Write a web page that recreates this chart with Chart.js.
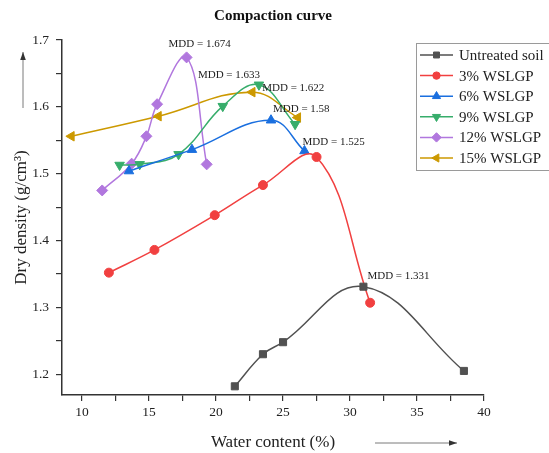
<!DOCTYPE html>
<html>
<head>
<meta charset="utf-8">
<script src="https://cdn.jsdelivr.net/npm/chart.js@4"></script>
<style>
  html, body { margin: 0; padding: 0; background: #fff; }
  canvas { display: block; }
</style>
</head>
<body>
<canvas id="c" width="549" height="453"></canvas>
<script>
// ---------------- data ----------------
const seriesNames = ['Untreated soil', '3% WSLGP', '6% WSLGP', '9% WSLGP', '12% WSLGP', '15% WSLGP'];

const untreatedX = [21.4, 23.5, 25.0, 31.0, 38.5];
const untreatedY = [1.182, 1.230, 1.248, 1.331, 1.205];

const wslgp3X = [12.0, 15.4, 19.9, 23.5, 27.5, 31.5];
const wslgp3Y = [1.352, 1.386, 1.438, 1.483, 1.525, 1.307];

const wslgp6X = [13.5, 18.2, 24.1, 26.6];
const wslgp6Y = [1.504, 1.536, 1.580, 1.534];

const wslgp9X = [12.8, 14.3, 17.2, 20.5, 23.2, 25.9];
const wslgp9Y = [1.513, 1.514, 1.529, 1.601, 1.633, 1.574];

const wslgp12X = [11.5, 13.7, 14.8, 15.6, 17.8, 19.3];
const wslgp12Y = [1.475, 1.515, 1.556, 1.604, 1.674, 1.514];

const wslgp15X = [9.2, 15.7, 22.7, 26.1];
const wslgp15Y = [1.556, 1.586, 1.622, 1.584];

const xTickLabels = [10, 15, 20, 25, 30, 35, 40];
const yTickLabels = [1.2, 1.3, 1.4, 1.5, 1.6, 1.7];

const titleText = 'Compaction curve';
const xTitle = 'Water content (%)';
const yTitle = 'Dry density (g/cm\u00B3)';

// ---------------- styles ----------------
const colors = ['#515151', '#F14040', '#1A6FDF', '#37AD6B', '#B177DE', '#CC9900'];
const styles = [
  { pointStyle: 'rect', rotation: 0, radius: 5 },
  { pointStyle: 'circle', rotation: 0, radius: 4.5 },
  { pointStyle: 'triangle', rotation: 0, radius: 5.5 },
  { pointStyle: 'triangle', rotation: 180, radius: 5.5 },
  { pointStyle: 'rectRot', rotation: 0, radius: 5.5 },
  { pointStyle: 'triangle', rotation: -90, radius: 5.5 }
];
const SERIF = '"Liberation Serif", "Times New Roman", serif';

const xs = [untreatedX, wslgp3X, wslgp6X, wslgp9X, wslgp12X, wslgp15X];
const ys = [untreatedY, wslgp3Y, wslgp6Y, wslgp9Y, wslgp12Y, wslgp15Y];

const datasets = seriesNames.map((name, i) => ({
  label: name,
  data: xs[i].map((x, k) => ({ x: x, y: ys[i][k] })),
  borderColor: colors[i],
  backgroundColor: colors[i],
  pointBackgroundColor: colors[i],
  pointBorderColor: colors[i],
  pointBorderWidth: 1,
  pointStyle: styles[i].pointStyle,
  pointRotation: styles[i].rotation,
  pointRadius: styles[i].radius,
  borderWidth: 1.5,
  tension: 0.4,
  fill: false,
  clip: false
}));

// MDD annotations: series index, point index, label offsets (px)
const mddNotes = [
  { s: 4, k: 4, dx: -18, dy: -13 },
  { s: 3, k: 4, dx: -61, dy: -10 },
  { s: 5, k: 2, dx: 10, dy: -4 },
  { s: 2, k: 2, dx: 2, dy: -11 },
  { s: 1, k: 4, dx: -14, dy: -15 },
  { s: 0, k: 3, dx: 4, dy: -11 }
];

function drawMarker(ctx, style, color, x, y) {
  const r = style.radius;
  ctx.save();
  ctx.fillStyle = color;
  ctx.strokeStyle = color;
  ctx.lineWidth = 1;
  ctx.beginPath();
  if (style.pointStyle === 'rect') {
    const s = r * Math.SQRT1_2;
    ctx.rect(x - s, y - s, 2 * s, 2 * s);
  } else if (style.pointStyle === 'circle') {
    ctx.arc(x, y, r, 0, Math.PI * 2);
  } else if (style.pointStyle === 'rectRot') {
    const s = r * Math.SQRT1_2 * 1.0;
    ctx.moveTo(x, y - r); ctx.lineTo(x + r, y); ctx.lineTo(x, y + r); ctx.lineTo(x - r, y);
    ctx.closePath();
  } else {
    let rad = style.rotation * Math.PI / 180;
    ctx.moveTo(x + Math.sin(rad) * r, y - Math.cos(rad) * r);
    rad += 2 * Math.PI / 3;
    ctx.lineTo(x + Math.sin(rad) * r, y - Math.cos(rad) * r);
    rad += 2 * Math.PI / 3;
    ctx.lineTo(x + Math.sin(rad) * r, y - Math.cos(rad) * r);
    ctx.closePath();
  }
  ctx.fill();
  ctx.stroke();
  ctx.restore();
}

function arrow(ctx, x1, y1, x2, y2) {
  ctx.save();
  ctx.strokeStyle = '#7a7a7a';
  ctx.fillStyle = '#333';
  ctx.lineWidth = 1;
  ctx.beginPath();
  ctx.moveTo(x1, y1);
  ctx.lineTo(x2, y2);
  ctx.stroke();
  const a = Math.atan2(y2 - y1, x2 - x1);
  const L = 8, W = 2.8;
  ctx.beginPath();
  ctx.moveTo(x2, y2);
  ctx.lineTo(x2 - L * Math.cos(a) + W * Math.sin(a), y2 - L * Math.sin(a) - W * Math.cos(a));
  ctx.lineTo(x2 - L * Math.cos(a) - W * Math.sin(a), y2 - L * Math.sin(a) + W * Math.cos(a));
  ctx.closePath();
  ctx.fill();
  ctx.restore();
}

const decor = {
  id: 'decor',
  afterDraw(chart) {
    const ctx = chart.ctx;
    const area = chart.chartArea;
    const sx = chart.scales.x, sy = chart.scales.y;
    ctx.save();
    // title
    ctx.fillStyle = '#111';
    ctx.font = 'bold 15px ' + SERIF;
    ctx.textAlign = 'center';
    ctx.textBaseline = 'middle';
    ctx.fillText(titleText, (area.left + area.right) / 2, 16);

    // x title + arrow
    ctx.font = '17px ' + SERIF;
    ctx.fillStyle = '#222';
    ctx.fillText(xTitle, (area.left + area.right) / 2, area.bottom + 48);
    arrow(ctx, area.left + 313, area.bottom + 48, area.left + 395, area.bottom + 48);

    // y title + arrow
    ctx.save();
    ctx.translate(22, (area.top + area.bottom) / 2);
    ctx.rotate(-Math.PI / 2);
    ctx.fillText(yTitle, 0, 0);
    ctx.restore();
    arrow(ctx, 23, area.top + 68, 23, area.top + 12);

    // MDD labels
    ctx.font = '11px ' + SERIF;
    ctx.fillStyle = '#222';
    ctx.textAlign = 'left';
    ctx.textBaseline = 'middle';
    mddNotes.forEach(n => {
      const px = sx.getPixelForValue(xs[n.s][n.k]);
      const py = sy.getPixelForValue(ys[n.s][n.k]);
      ctx.fillText('MDD = ' + ys[n.s][n.k], px + n.dx, py + n.dy);
    });

    // legend
    const bx = 416.5, by = 43.5, bw = 150, bh = 127;
    ctx.fillStyle = '#fff';
    ctx.fillRect(bx, by, bw, bh);
    ctx.strokeStyle = '#9a9a9a';
    ctx.lineWidth = 1;
    ctx.strokeRect(bx, by, bw, bh);
    ctx.font = '15px ' + SERIF;
    ctx.textAlign = 'left';
    ctx.textBaseline = 'middle';
    seriesNames.forEach((name, i) => {
      const yy = 55 + i * 20.6;
      ctx.strokeStyle = colors[i];
      ctx.lineWidth = 1.5;
      ctx.beginPath();
      ctx.moveTo(420, yy);
      ctx.lineTo(453, yy);
      ctx.stroke();
      drawMarker(ctx, { pointStyle: styles[i].pointStyle, rotation: styles[i].rotation, radius: styles[i].radius - 0.8 }, colors[i], 436.5, yy);
      ctx.fillStyle = '#222';
      ctx.fillText(name, 459, yy + 1);
    });
    ctx.restore();
  }
};

function buildTicks(labels) {
  const out = [];
  for (let i = 0; i < labels.length; i++) {
    out.push({ value: labels[i] });
    if (i < labels.length - 1) out.push({ value: (labels[i] + labels[i + 1]) / 2 });
  }
  return out;
}

new Chart(document.getElementById('c'), {
  type: 'line',
  data: { datasets: datasets },
  options: {
    responsive: false,
    animation: false,
    devicePixelRatio: 1,
    layout: { padding: { left: 0, top: 40, right: 65, bottom: 0 } },
    plugins: { legend: { display: false }, title: { display: false }, tooltip: { enabled: false } },
    scales: {
      x: {
        type: 'linear',
        min: 8.5,
        max: 40,
        afterBuildTicks: ax => { ax.ticks = buildTicks(xTickLabels); },
        afterFit: sc => { sc.height = 58; },
        ticks: {
          autoSkip: false,
          maxRotation: 0,
          padding: 3,
          color: '#222',
          font: { family: SERIF, size: 13.5 },
          callback: v => (xTickLabels.includes(v) ? String(v) : '')
        },
        grid: { drawOnChartArea: false, drawTicks: true, tickLength: 6, color: '#333', lineWidth: 1.2 },
        border: { display: true, color: '#333', width: 1.5 }
      },
      y: {
        type: 'linear',
        min: 1.169,
        max: 1.7,
        afterBuildTicks: ax => { ax.ticks = buildTicks(yTickLabels); },
        afterFit: sc => { sc.width = 62; },
        ticks: {
          autoSkip: false,
          padding: 7,
          color: '#222',
          font: { family: SERIF, size: 13.5 },
          callback: v => (yTickLabels.some(t => Math.abs(t - v) < 1e-9) ? v.toFixed(1) : '')
        },
        grid: { drawOnChartArea: false, drawTicks: true, tickLength: 6, color: '#333', lineWidth: 1.2 },
        border: { display: true, color: '#333', width: 1.5 }
      }
    }
  },
  plugins: [decor]
});
</script>
</body>
</html>
